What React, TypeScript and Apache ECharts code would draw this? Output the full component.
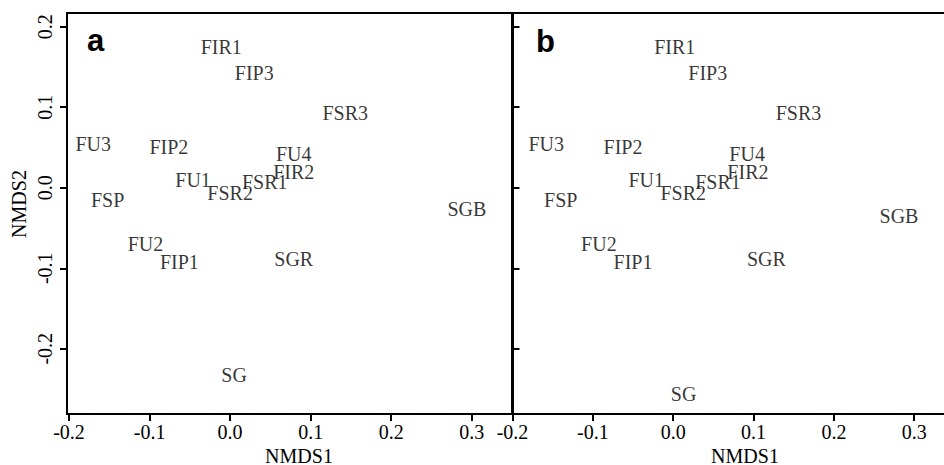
import React, { useEffect, useRef } from "react";
import * as echarts from "echarts";

const labels = ["FIR1", "FIP3", "FSR3", "FU3", "FIP2", "FU4", "FIR2", "FU1", "FSR1", "FSR2", "FSP", "SGB", "FU2", "FIP1", "SGR", "SG"];
const aX = [-0.011, 0.030, 0.143, -0.170, -0.076, 0.079, 0.079, -0.046, 0.043, 0.000, -0.152, 0.294, -0.105, -0.063, 0.079, 0.005];
const aY = [0.175, 0.143, 0.0925, 0.054, 0.051, 0.0416, 0.020, 0.010, 0.007, -0.006, -0.015, -0.027, -0.0696, -0.092, -0.088, -0.233];
const bX = [0.002, 0.043, 0.156, -0.158, -0.0625, 0.092, 0.093, -0.0336, 0.0557, 0.0125, -0.140, 0.281, -0.0925, -0.050, 0.116, 0.013];
const bY = [0.175, 0.143, 0.0925, 0.054, 0.050, 0.0416, 0.019, 0.010, 0.007, -0.006, -0.015, -0.0357, -0.0696, -0.0925, -0.089, -0.256];
const xTicks = [-0.2, -0.1, 0.0, 0.1, 0.2, 0.3];
const yTicks = [-0.2, -0.1, 0.0, 0.1, 0.2];

const SERIF = "'Liberation Serif', 'Times New Roman', serif";

export default function App() {
  const ref = useRef<HTMLDivElement>(null);
  useEffect(() => {
    if (!ref.current) return;
    document.body.style.overflow = "hidden";
    const chart = echarts.init(ref.current, null, { renderer: "svg" });
    const fmt = (v: number) => (Math.abs(v) < 1e-9 ? "0.0" : v.toFixed(1));
    const lineStyle = { color: "#000", width: 2 };
    const mkX = (gridIndex: number, min: number, max: number) => ({
      type: "value",
      gridIndex,
      min,
      max,
      splitLine: { show: false },
      axisLine: { show: true, onZero: false, lineStyle },
      axisTick: { show: true, length: 7, lineStyle, customValues: xTicks },
      axisLabel: {
        show: true,
        customValues: xTicks,
        formatter: fmt,
        margin: 8,
        color: "#000",
        fontFamily: SERIF,
        fontSize: 20,
      },
    });
    const mkY = (gridIndex: number, showLabels: boolean) => ({
      type: "value",
      gridIndex,
      min: -0.281,
      max: 0.217,
      splitLine: { show: false },
      axisLine: { show: true, onZero: false, lineStyle },
      axisTick: { show: true, inside: !showLabels, length: 7, lineStyle, customValues: yTicks },
      axisLabel: {
        show: showLabels,
        customValues: yTicks,
        formatter: fmt,
        rotate: 90,
        margin: 12,
        color: "#000",
        fontFamily: SERIF,
        fontSize: 20,
      },
    });
    const mkSeries = (xs: number[], ys: number[], idx: number) => ({
      type: "scatter",
      xAxisIndex: idx,
      yAxisIndex: idx,
      symbol: "circle",
      symbolSize: 1,
      itemStyle: { color: "rgba(0,0,0,0)" },
      silent: true,
      data: labels.map((n, i) => ({ name: n, value: [xs[i], ys[i]] })),
      label: {
        show: true,
        position: "inside",
        formatter: (p: any) => p.name,
        color: "#000",
        fontFamily: SERIF,
        fontSize: 20,
        align: "center",
        verticalAlign: "middle",
      },
      emphasis: { disabled: true },
    });
    chart.setOption({
      animation: false,
      backgroundColor: "#fff",
      grid: [
        { left: 67, top: 13, width: 445, height: 401, show: true, borderColor: "#000", borderWidth: 2, backgroundColor: "transparent" },
        { left: 512.5, top: 13, width: 466, height: 401, show: true, borderColor: "#000", borderWidth: 2, backgroundColor: "transparent" },
      ],
      xAxis: [mkX(0, -0.2025, 0.35), mkX(1, -0.2, 0.38)],
      yAxis: [mkY(0, true), mkY(1, false)],
      series: [mkSeries(aX, aY, 0), mkSeries(bX, bY, 1)],
      graphic: [
        { type: "text", x: 87, y: 40, style: { text: "a", font: "bold 31px 'Liberation Sans', Arial, sans-serif", fill: "#000", align: "left", verticalAlign: "middle" } },
        { type: "text", x: 536, y: 41, style: { text: "b", font: "bold 31px 'Liberation Sans', Arial, sans-serif", fill: "#000", align: "left", verticalAlign: "middle" } },
        { type: "text", x: 299, y: 455.5, style: { text: "NMDS1", font: "20px " + SERIF, fill: "#000", align: "center", verticalAlign: "middle" } },
        { type: "text", x: 745, y: 455.5, style: { text: "NMDS1", font: "20px " + SERIF, fill: "#000", align: "center", verticalAlign: "middle" } },
        { type: "text", x: 19, y: 204, rotation: Math.PI / 2, style: { text: "NMDS2", font: "20px " + SERIF, fill: "#000", align: "center", verticalAlign: "middle" } },
      ],
    });
    return () => chart.dispose();
  }, []);
  return <div ref={ref} style={{ position: "fixed", left: 0, top: 0, width: 1000, height: 465, background: "#fff" }} />;
}
